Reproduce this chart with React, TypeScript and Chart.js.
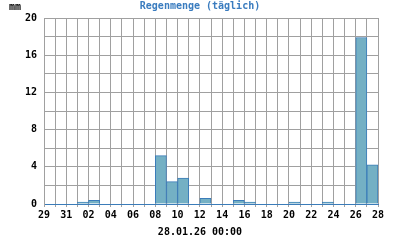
import React, { useEffect, useRef } from "react";
import { Chart, registerables } from "chart.js";

Chart.register(...registerables);

const titleText = "Regenmenge (täglich)";
const unitText = "mm";
const dateText = "28.01.26 00:00";
// day boundaries 29.12 .. 28.01 (31 boundaries, 30 daily bars)
const dayLabels = [
  "29", "30", "31", "01", "02", "03", "04", "05", "06", "07", "08", "09", "10",
  "11", "12", "13", "14", "15", "16", "17", "18", "19", "20", "21", "22", "23",
  "24", "25", "26", "27", "28",
];
// daily rain amounts (mm), one per day interval
const rainValues = [
  0, 0, 0, 0.2, 0.4, 0, 0, 0, 0, 0, 5.2, 2.4, 2.8, 0, 0.6, 0, 0, 0.4, 0.2, 0,
  0, 0, 0.2, 0, 0, 0.2, 0, 0, 17.9, 4.2,
];
const yMax = 20;

const FONT = '"DejaVu Sans Mono", monospace';

export default function App() {
  const ref = useRef<HTMLCanvasElement>(null);
  useEffect(() => {
    const textPlugin = {
      id: "texts",
      afterDraw(chart: any) {
        const ctx = chart.ctx;
        ctx.save();
        ctx.font = `bold 10px ${FONT}`;
        ctx.textBaseline = "middle";
        ctx.fillStyle = "#000";
        ctx.textAlign = "left";
        ctx.fillText(unitText, 9, 7);
        ctx.fillStyle = "#3a7cbf";
        ctx.textAlign = "center";
        ctx.fillText(titleText, 200, 6);
        ctx.fillStyle = "#000";
        ctx.fillText(dateText, 200, 232);
        ctx.restore();
      },
    };
    const chart = new Chart(ref.current!, {
      type: "bar",
      data: {
        datasets: [
          {
            data: rainValues.map((v, i) => ({ x: i + 0.5, y: v })),
            backgroundColor: "#74b0c4",
            borderColor: "#3b7cb9",
            borderWidth: 1,
            barPercentage: 1,
            categoryPercentage: 1,
          },
        ],
      },
      options: {
        responsive: false,
        animation: false,
        layout: { padding: { top: 18, right: 22, left: 0, bottom: 0 } },
        plugins: { legend: { display: false }, tooltip: { enabled: false } },
        scales: {
          x: {
            type: "linear",
            offset: false,
            min: 0,
            max: dayLabels.length - 1,
            afterFit: (s: any) => {
              s.height = 36;
            },
            ticks: {
              stepSize: 1,
              autoSkip: false,
              maxRotation: 0,
              padding: 2,
              color: "#000",
              font: { family: FONT, size: 10, weight: "bold" },
              callback: (v: any) => (v % 2 === 0 ? dayLabels[v] : ""),
            },
            grid: { offset: false, color: "#a0a0a0", tickLength: 3, tickColor: "#a0a0a0" },
            border: { color: "#3b7cb9" },
          },
          y: {
            min: 0,
            max: yMax,
            afterFit: (s: any) => {
              s.width = 44;
            },
            ticks: {
              stepSize: 2,
              padding: 7,
              color: "#000",
              font: { family: FONT, size: 10, weight: "bold" },
              callback: (v: any) => (v % 4 === 0 ? String(v) : ""),
            },
            grid: { color: "#a0a0a0", tickLength: 0 },
            border: { color: "#a0a0a0" },
          },
        },
      },
      plugins: [textPlugin],
    } as any);
    return () => chart.destroy();
  }, []);
  return (
    <div style={{ position: "absolute", left: 0, top: 0, width: 400, height: 240, background: "#fff" }}>
      <canvas ref={ref} width={400} height={240} style={{ display: "block" }} />
    </div>
  );
}
